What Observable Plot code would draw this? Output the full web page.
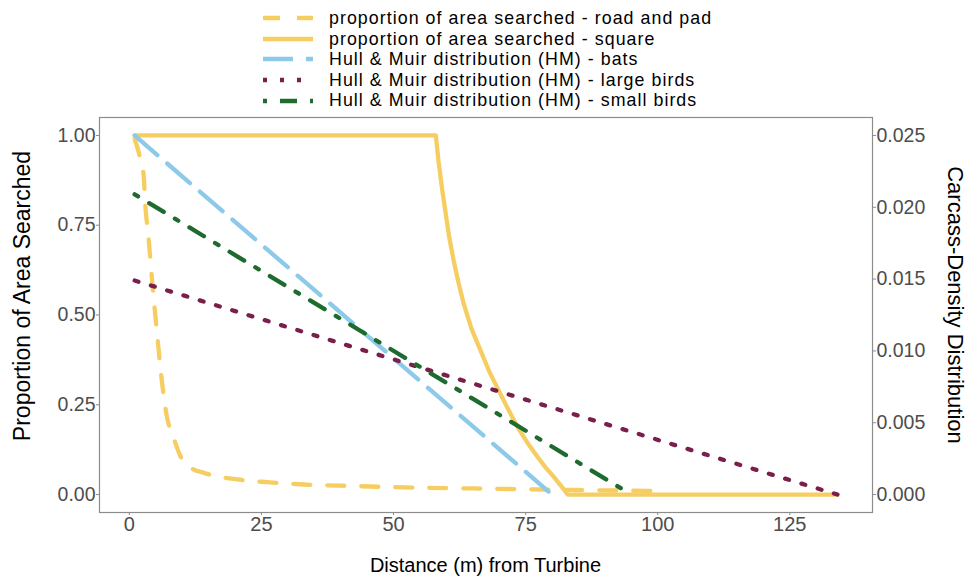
<!DOCTYPE html>
<html><head><meta charset="utf-8">
<script src="https://cdn.jsdelivr.net/npm/d3@7"></script>
<script src="https://cdn.jsdelivr.net/npm/@observablehq/plot@0.6"></script>
<style>
body{margin:0;background:#fff;font-family:"Liberation Sans",Arial,sans-serif;}
#wrap{position:relative;width:968px;height:576px;overflow:hidden;}
#legend{position:absolute;left:263px;top:8px;}
.row{display:flex;align-items:center;height:20.6px;}
.row svg{width:50px;height:10px;margin-right:16px;flex:none;}
.row span{font-size:17.8px;letter-spacing:1.05px;color:#000;line-height:20.6px;white-space:nowrap;}
#chart{position:absolute;left:0;top:112px;}
</style></head><body>
<div id="wrap"><div id="legend"></div><div id="chart"></div></div>
<script>
// ---- data ----
const roadPadX = [1, 2, 2.7, 3, 3.6, 4.4, 5.3, 6.2, 7.2, 8.1, 9.7, 11.6, 14, 20.4, 26.7, 33, 39.4, 52, 65, 83, 99];
const roadPadY = [0.99, 0.94, 0.89, 0.81, 0.72, 0.58, 0.44, 0.31, 0.21, 0.17, 0.106, 0.075, 0.061, 0.042, 0.034, 0.028, 0.025, 0.020, 0.017, 0.013, 0.010];
const squareX = [1, 58, 58.5, 59.2, 59.8, 60.5, 61.4, 62.3, 63.3, 64.8, 66.5, 68.2, 69.9, 71.6, 73.4, 75.3, 77.2, 78.8, 80.3, 81.7, 83, 134];
const squareY = [1, 1, 0.93, 0.85, 0.79, 0.72, 0.65, 0.59, 0.53, 0.46, 0.40, 0.34, 0.29, 0.24, 0.19, 0.145, 0.106, 0.075, 0.05, 0.024, 0, 0];
const batsX = [1, 80];
const batsDensity = [0.025, 0];
const largeBirdsX = [1, 134];
const largeBirdsDensity = [0.0149, 0];
const smallBirdsX = [1, 95];
const smallBirdsDensity = [0.0209, 0];
const xTicks = [0, 25, 50, 75, 100, 125];
const propTicks = [0, 0.25, 0.5, 0.75, 1];
const densityTicks = [0, 0.005, 0.01, 0.015, 0.02, 0.025];
const densityMax = 0.025;
const seriesNames = [
  "proportion of area searched - road and pad",
  "proportion of area searched - square",
  "Hull & Muir distribution (HM) - bats",
  "Hull & Muir distribution (HM) - large birds",
  "Hull & Muir distribution (HM) - small birds"
];
const seriesColors = ["#F5CD60", "#F5CD60", "#8DC9E8", "#7A1F4B", "#1D6B2E"];
const seriesDash = ["17,17", null, "30,13", "4,13", "4,13,17,13"];
const LW = 4.3;

const zip = (xs, ys) => xs.map((x, i) => ({x, y: ys[i]}));
const roadPad = zip(roadPadX, roadPadY);
const square = zip(squareX, squareY);
const bats = zip(batsX, batsDensity);
const large = zip(largeBirdsX, largeBirdsDensity);
const small = zip(smallBirdsX, smallBirdsDensity);
const dens = d => d.y / densityMax;

// ---- legend ----
const legend = d3.select("#legend");
seriesNames.forEach((name, i) => {
  const row = legend.append("div").attr("class", "row");
  const s = row.append("svg").attr("width", 50).attr("height", 10);
  s.append("line").attr("x1", 0).attr("x2", 50).attr("y1", 5).attr("y2", 5)
    .attr("stroke", seriesColors[i]).attr("stroke-width", LW)
    .attr("stroke-dasharray", seriesDash[i]);
  row.append("span").text(name);
});

// ---- chart ----
const font = '"Liberation Sans", Arial, sans-serif';
const chart = Plot.plot({
  width: 968, height: 464,
  marginTop: 5, marginBottom: 64, marginLeft: 99, marginRight: 96,
  x: {domain: [-5.65, 140.65]},
  y: {domain: [-0.05, 1.05]},
  style: {fontFamily: font, fontSize: "20px", background: "#fff"},
  marks: [
    Plot.frame({stroke: "#8c8c8c", strokeWidth: 1.2}),
    Plot.axisX({ticks: xTicks, tickSize: 3, tickPadding: 1, label: null, color: "#4d4d4d", stroke: "#8c8c8c", fontSize: 20}),
    Plot.axisY({anchor: "left", ticks: propTicks, tickFormat: d3.format(".2f"), tickSize: 3, tickPadding: 1, label: null, color: "#4d4d4d", stroke: "#8c8c8c", fontSize: 19.5}),
    Plot.axisY({anchor: "right", ticks: densityTicks.map(d => d / densityMax), tickFormat: d => (d * densityMax).toFixed(3), tickSize: 3, tickPadding: 1, label: null, color: "#4d4d4d", stroke: "#8c8c8c", fontSize: 19.5}),
    Plot.line(roadPad, {x: "x", y: "y", stroke: seriesColors[0], strokeWidth: LW, strokeDasharray: seriesDash[0], curve: "monotone-x"}),
    Plot.line(square, {x: "x", y: "y", stroke: seriesColors[1], strokeWidth: LW, curve: "linear"}),
    Plot.line(bats, {x: "x", y: dens, stroke: seriesColors[2], strokeWidth: LW, strokeDasharray: seriesDash[2]}),
    Plot.line(large, {x: "x", y: dens, stroke: seriesColors[3], strokeWidth: LW, strokeDasharray: seriesDash[3]}),
    Plot.line(small, {x: "x", y: dens, stroke: seriesColors[4], strokeWidth: LW, strokeDasharray: seriesDash[4]})
  ]
});
document.getElementById("chart").appendChild(chart);

// axis titles
const svg = d3.select(chart);
svg.append("text").attr("x", 485.5).attr("y", 460).attr("text-anchor", "middle")
  .attr("font-size", 20).attr("fill", "#000").attr("font-family", font)
  .text("Distance (m) from Turbine");
svg.append("text").attr("transform", "translate(29.5,184) rotate(-90)").attr("text-anchor", "middle")
  .attr("font-size", 23).attr("fill", "#000").attr("font-family", font)
  .text("Proportion of Area Searched");
svg.append("text").attr("transform", "translate(948,193) rotate(90)").attr("text-anchor", "middle")
  .attr("font-size", 22).attr("fill", "#000").attr("font-family", font)
  .text("Carcass-Density Distribution");
</script>
</body></html>
